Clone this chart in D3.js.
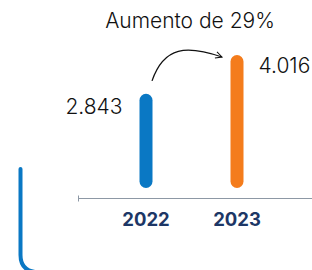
<!DOCTYPE html>
<html>
<head>
<meta charset="utf-8">
<script src="https://cdn.jsdelivr.net/npm/d3@7"></script>
<style>
  html, body { margin: 0; padding: 0; background: #fff; }
  svg { display: block; font-family: "Inter", "Noto Sans", sans-serif; }
</style>
</head>
<body>
<svg id="chart" width="312" height="270"></svg>
<script>
/* data */
const years = ["2022", "2023"];
const values = [2843, 4016];
const valueLabels = ["2.843", "4.016"];
const note = "Aumento de 29%";

const colors = ["#0a78c4", "#f47c1c"];

const width = 312, height = 270;
const svg = d3.select("#chart");

/* point scale for years, linear for the bar heights */
const x = d3.scalePoint()
    .domain(years)
    .range([146, 237]);

const y = d3.scaleLinear()
    .domain([0, 4016])
    .range([188, 55]);

const barW = 13;

/* bars with rounded ends */
svg.append("g").selectAll("rect")
    .data(values)
    .enter()
    .append("rect")
    .attr("x", (d, i) => x(years[i]) - barW / 2)
    .attr("y", d => y(d))
    .attr("width", barW)
    .attr("height", d => y(0) - y(d))
    .attr("rx", barW / 2)
    .style("fill", (d, i) => colors[i]);

/* axis line under the bars */
const axisY = 198.5;
svg.append("line")
    .attr("x1", 78).attr("x2", width)
    .attr("y1", axisY).attr("y2", axisY)
    .style("stroke", "#8d98a5")
    .style("stroke-width", 1.2);
svg.append("line")
    .attr("x1", 78.5).attr("x2", 78.5)
    .attr("y1", axisY - 3).attr("y2", axisY + 3)
    .style("stroke", "#8d98a5")
    .style("stroke-width", 1);

/* year labels */
svg.append("g").selectAll("text")
    .data(years)
    .enter()
    .append("text")
    .attr("x", d => x(d))
    .attr("y", 226)
    .attr("text-anchor", "middle")
    .style("font-size", "18.5px")
    .style("font-weight", 700)
    .style("fill", "#1d3766")
    .text(d => d);

/* value labels: first on the left, second on the right */
svg.append("text")
    .attr("x", x(years[0]) - barW / 2 - 17)
    .attr("y", y(values[0]) + 20)
    .attr("text-anchor", "end")
    .style("font-size", "21px")
    .style("font-weight", 300)
    .style("fill", "#111")
    .text(valueLabels[0]);

svg.append("text")
    .attr("x", x(years[1]) + barW / 2 + 15)
    .attr("y", y(values[1]) + 18)
    .attr("text-anchor", "start")
    .style("font-size", "21px")
    .style("font-weight", 300)
    .style("fill", "#111")
    .text(valueLabels[1]);

/* note and curved arrow */
svg.append("text")
    .attr("x", 190)
    .attr("y", 28)
    .attr("text-anchor", "middle")
    .style("font-size", "21px")
    .style("font-weight", 300)
    .style("fill", "#111")
    .text(note);

svg.append("defs").append("marker")
    .attr("id", "head")
    .attr("viewBox", "0 0 10 10")
    .attr("refX", 9).attr("refY", 5)
    .attr("markerWidth", 8).attr("markerHeight", 8)
    .attr("markerUnits", "userSpaceOnUse")
    .attr("orient", "auto")
    .append("path")
    .attr("d", "M1,1 L9,5 L1,9")
    .style("fill", "none")
    .style("stroke", "#111")
    .style("stroke-width", 1.3);

const x0 = x(years[0]) + 6, y0 = y(values[0]) - 13;
const x1 = x(years[1]) - 15, y1 = y(values[1]) + 2;
svg.append("path")
    .attr("d", `M${x0},${y0} C${x0 + 12},${y0 - 35} ${x1 - 35},${y1 - 12} ${x1},${y1}`)
    .style("fill", "none")
    .style("stroke", "#111")
    .style("stroke-width", 1.3)
    .attr("marker-end", "url(#head)");

/* decorative blue bracket at left */
svg.append("path")
    .attr("d", "M20.5,169 L20.5,255 Q20.5,270 35,272")
    .style("fill", "none")
    .style("stroke", colors[0])
    .style("stroke-width", 4)
    .style("stroke-linecap", "round");
</script>
</body>
</html>
